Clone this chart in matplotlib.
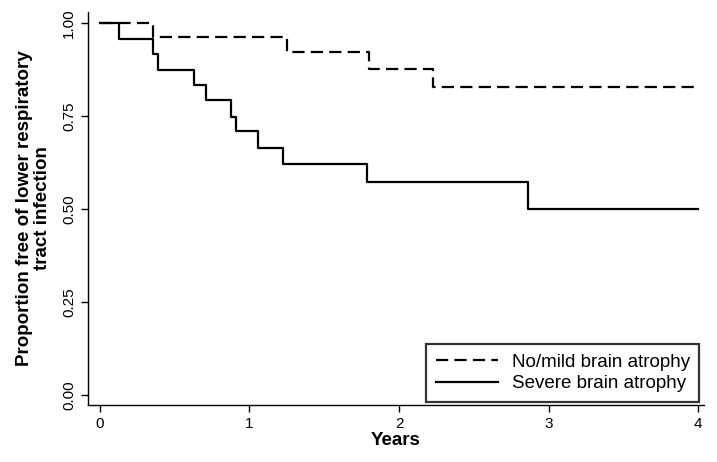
import numpy as np
import matplotlib.pyplot as plt

plt.rcParams['font.family'] = ['Liberation Sans', 'DejaVu Sans']

# Kaplan-Meier step curves
mild_t = [0, 0.354, 1.253, 1.80, 2.23, 4.0]
mild_s = [1.0, 0.962, 0.922, 0.876, 0.828, 0.828]

severe_t = [0, 0.128, 0.354, 0.385, 0.628, 0.707, 0.879, 0.913, 1.054, 1.224, 1.785, 2.86, 4.0]
severe_s = [1.0, 0.958, 0.917, 0.875, 0.833, 0.792, 0.748, 0.711, 0.665, 0.622, 0.572, 0.5, 0.5]

x_ticks = [0, 1, 2, 3, 4]
y_ticks = [0, 0.25, 0.5, 0.75, 1.0]
y_labels = ['0.00', '0.25', '0.50', '0.75', '1.00']

fig = plt.figure(figsize=(7.17, 4.62), dpi=100)
ax = fig.add_axes([0.1227, 0.1234, 0.8593, 0.8506])

ax.plot(mild_t, mild_s, drawstyle='steps-post', color='black', lw=1.6,
        dashes=(5.5, 2.8), label='No/mild brain atrophy')
ax.plot(severe_t, severe_s, drawstyle='steps-post', color='black', lw=1.6,
        label='Severe brain atrophy')

ax.set_xlim(-0.08, 4.04)
ax.set_ylim(-0.027, 1.03)
ax.set_xticks(x_ticks)
ax.set_yticks(y_ticks)
ax.set_yticklabels(y_labels, rotation=90, va='center')
ax.tick_params(direction='out', length=5, width=1, labelsize=11, colors='black')

for s in ['top', 'right']:
    ax.spines[s].set_visible(False)
for s in ['left', 'bottom']:
    ax.spines[s].set_linewidth(1)

ax.set_xlabel('Years', fontsize=13.5, fontweight='bold', labelpad=1)
ax.set_ylabel('Proportion free of lower respiratory\ntract infection',
              fontsize=13.5, fontweight='bold', labelpad=8, linespacing=1.1)

leg = ax.legend(loc='lower right', fontsize=13.5, frameon=True, fancybox=False,
                edgecolor='black', handlelength=3.3, handletextpad=0.75,
                borderpad=0.5, labelspacing=0.25, borderaxespad=0,
                bbox_to_anchor=(0.992, 0.008))
leg.get_frame().set_linewidth(1.6)

fig.savefig('out.png', dpi=100)
